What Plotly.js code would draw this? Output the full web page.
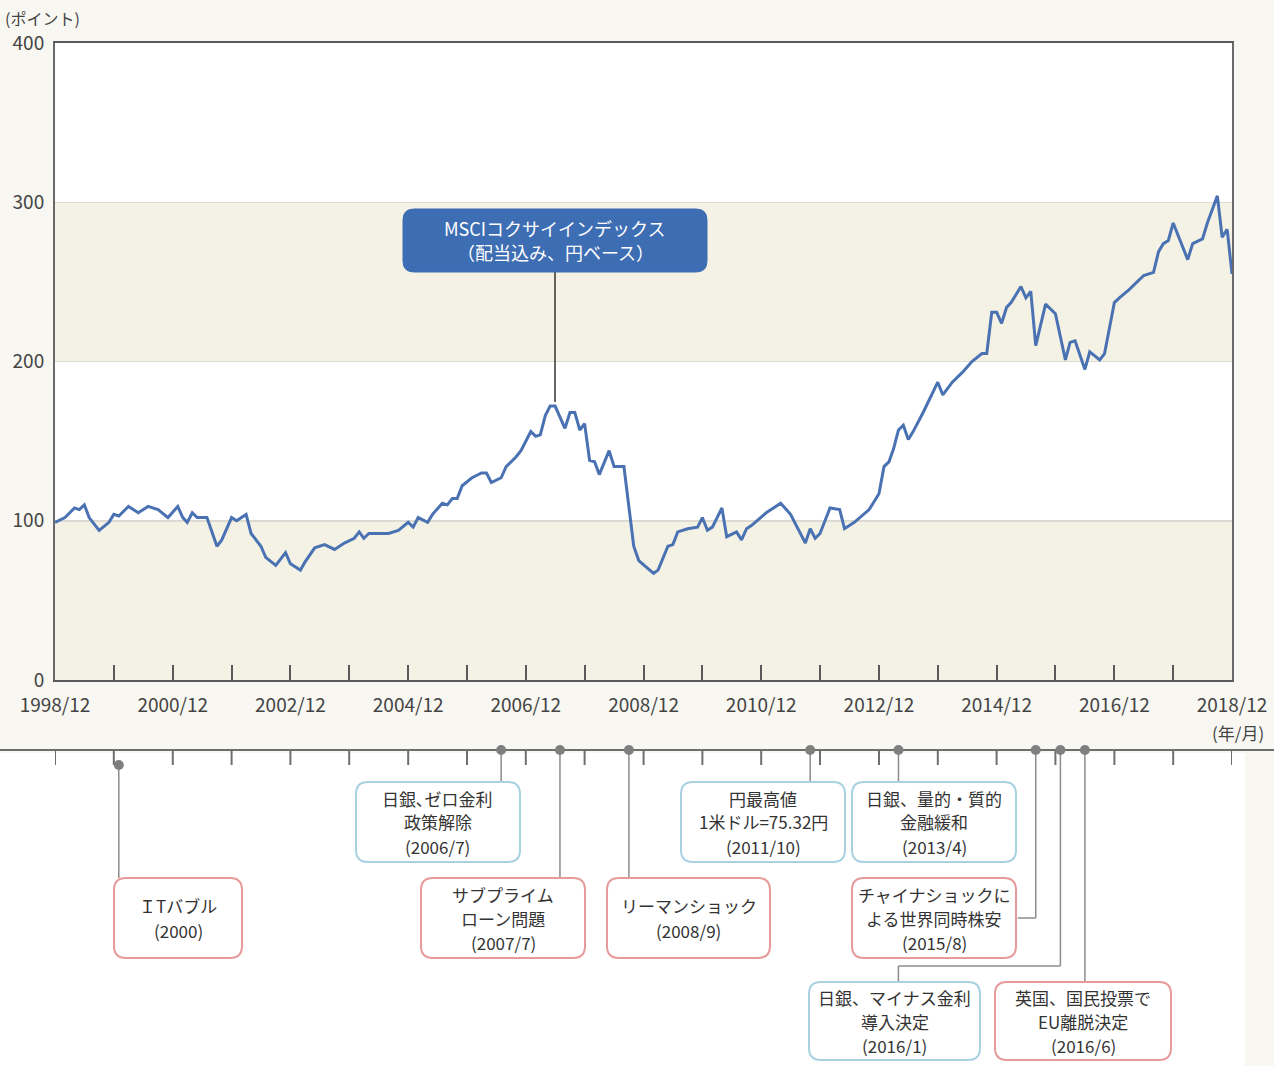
<!DOCTYPE html>
<html><head><meta charset="utf-8">
<script src="https://cdn.plot.ly/plotly-3.0.1.min.js"></script>
<style>html,body{margin:0;padding:0;background:#f8f7f1;} #chart{width:1274px;height:1066px;}</style>
</head><body><div id="chart"></div>
<script>
// ---------------- data ----------------
const seriesDates = [
 '1998-12','1999-02','1999-04','1999-05','1999-06','1999-07','1999-09','1999-11','1999-12',
 '2000-01','2000-03','2000-05','2000-07','2000-09','2000-11',
 '2001-01','2001-02','2001-03','2001-04','2001-05','2001-07','2001-09','2001-10','2001-12',
 '2002-01','2002-03','2002-04','2002-06','2002-07','2002-09','2002-11','2002-12',
 '2003-02','2003-03','2003-05','2003-07','2003-09','2003-11',
 '2004-01','2004-02','2004-03','2004-04','2004-06','2004-08','2004-10','2004-12',
 '2005-01','2005-02','2005-04','2005-05','2005-07','2005-08','2005-09','2005-10','2005-11',
 '2006-01','2006-03','2006-04','2006-05','2006-07','2006-08','2006-10','2006-11',
 '2007-01','2007-02','2007-03','2007-04','2007-05','2007-06','2007-08','2007-09','2007-10','2007-11','2007-12',
 '2008-01','2008-02','2008-03','2008-05','2008-06','2008-08','2008-10','2008-11',
 '2009-02','2009-03','2009-05','2009-06','2009-07','2009-09','2009-11','2009-12',
 '2010-01','2010-02','2010-04','2010-05','2010-07','2010-08','2010-09','2010-10',
 '2011-01','2011-04','2011-06','2011-09','2011-10','2011-11','2011-12',
 '2012-02','2012-04','2012-05','2012-07','2012-10','2012-12',
 '2013-01','2013-02','2013-03','2013-04','2013-05','2013-06','2013-07','2013-09','2013-12',
 '2014-01','2014-03','2014-05','2014-07','2014-09','2014-10','2014-11','2014-12',
 '2015-01','2015-02','2015-03','2015-05','2015-06','2015-07','2015-08','2015-10','2015-12',
 '2016-02','2016-03','2016-04','2016-06','2016-07','2016-09','2016-10','2016-12',
 '2017-01','2017-03','2017-04','2017-06','2017-08','2017-09','2017-10','2017-11','2017-12',
 '2018-03','2018-04','2018-06','2018-07','2018-09','2018-10','2018-11','2018-12'
];
const seriesValues = [
 99,102,108,107,110,102,94,99,104,
 103,109,105,109,107,102,
 109,102,99,105,102,102,84,88,102,
 100,104,92,84,77,72,80,73,
 69,74,83,85,82,86,
 89,93,89,92,92,92,94,99,
 96,102,99,104,111,110,114,114,122,
 127,130,130,124,127,134,140,144,
 156,153,154,166,172,172,158,168,168,157,161,
 138,137,129,144,134,134,84,75,
 67,69,84,85,93,95,96,102,
 94,96,108,90,93,88,95,97,
 105,111,104,86,95,89,92,
 108,107,95,99,107,117,
 134,137,145,157,160,151,156,168,187,
 179,187,193,200,205,205,231,231,
 224,234,237,247,240,244,210,236,230,
 201,212,213,195,206,201,205,237,
 240,245,248,254,256,269,274,276,287,
 264,274,277,287,304,278,283,255
];
const seriesNameLines = ['MSCIコクサイインデックス','（配当込み、円ベース）'];

const yTickVals = [0,100,200,300,400];
const xTickVals = ['1998-12-01','1999-12-01','2000-12-01','2001-12-01','2002-12-01','2003-12-01','2004-12-01',
 '2005-12-01','2006-12-01','2007-12-01','2008-12-01','2009-12-01','2010-12-01','2011-12-01','2012-12-01',
 '2013-12-01','2014-12-01','2015-12-01','2016-12-01','2017-12-01','2018-12-01'];
const xTickText = ['1998/12','','2000/12','','2002/12','','2004/12','','2006/12','','2008/12','','2010/12','',
 '2012/12','','2014/12','','2016/12','','2018/12'];

const eventDates = ['2000-01-01','2006-07-01','2007-07-01','2008-09-01','2011-10-01','2013-04-01','2015-08-01','2016-01-01','2016-06-01'];
const eventLabels = [
 ['ＩTバブル','(2000)'],
 ['日銀､ゼロ金利','政策解除','(2006/7)'],
 ['サブプライム','ローン問題','(2007/7)'],
 ['リーマンショック','(2008/9)'],
 ['円最高値','1米ドル=75.32円','(2011/10)'],
 ['日銀、量的・質的','金融緩和','(2013/4)'],
 ['チャイナショックに','よる世界同時株安','(2015/8)'],
 ['日銀、マイナス金利','導入決定','(2016/1)'],
 ['英国、国民投票で','EU離脱決定','(2016/6)']
];
const eventKinds = ['shock','policy','shock','shock','policy','policy','shock','policy','shock'];

// ---------------- layout helpers ----------------
const W=1274,H=1066,L=55,R=42,T=43,B=386;
const PW=W-L-R, PH=H-T-B;
const px = x => (x-L)/PW;
const py = y => (H-B-y)/PH;
const FONT = '"Noto Sans CJK JP","Noto Sans",sans-serif';
const LINE_H = 24;
function rrect(x0,y0,x1,y1,r){
  const P=(x,y)=>px(x).toFixed(5)+','+py(y).toFixed(5);
  return 'M'+P(x0+r,y0)+'L'+P(x1-r,y0)+'Q'+P(x1,y0)+' '+P(x1,y0+r)+
         'L'+P(x1,y1-r)+'Q'+P(x1,y1)+' '+P(x1-r,y1)+
         'L'+P(x0+r,y1)+'Q'+P(x0,y1)+' '+P(x0,y1-r)+
         'L'+P(x0,y0+r)+'Q'+P(x0,y0)+' '+P(x0+r,y0)+'Z';
}
// box placement (pixels) and connector styles per event
const boxPos = [
 {x0:114,y0:878,x1:242,y1:958, dotY:765, lineEnd:878},
 {x0:356,y0:782,x1:520,y1:862, dotY:750, lineEnd:782},
 {x0:421,y0:878,x1:585,y1:958, dotY:750, lineEnd:878},
 {x0:607,y0:878,x1:770,y1:958, dotY:750, lineEnd:878},
 {x0:681,y0:782,x1:845,y1:862, dotY:750, lineEnd:782},
 {x0:852,y0:782,x1:1016,y1:862, dotY:750, lineEnd:782},
 {x0:852,y0:878,x1:1016,y1:958, dotY:750, lineEnd:918, elbow:{dx:-18}},
 {x0:809,y0:982,x1:980,y1:1060, dotY:750, lineEnd:966, elbow:{dx:-162, drop:982}},
 {x0:995,y0:982,x1:1171,y1:1060, dotY:750, lineEnd:982}
];
const kindColor = {shock:'#e79a9a', policy:'#a8d2e2'};

const shapes = [];
const annotations = [];
function textLines(lines, cx, cy, font){
  const n = lines.length;
  lines.forEach((t,k)=>{
    const yy = cy + (k-(n-1)/2)*LINE_H;
    annotations.push({xref:'paper',yref:'paper',x:px(cx),y:py(yy),text:t,showarrow:false,
      xanchor:'center',yanchor:'middle',font:font});
  });
}
// background bands
[[0,100],[200,300]].forEach(b=>shapes.push({type:'rect',xref:'paper',yref:'y',x0:0,x1:1,y0:b[0],y1:b[1],
  fillcolor:'#f4f2e5',line:{width:0},layer:'below'}));
// white timeline area
shapes.push({type:'rect',xref:'paper',yref:'paper',x0:px(0),x1:px(1245),y0:py(753),y1:py(1066),
  fillcolor:'#ffffff',line:{width:0},layer:'below'});
// timeline line
shapes.push({type:'line',xref:'paper',yref:'paper',x0:px(0),x1:px(1274),y0:py(750),y1:py(750),
  line:{color:'#6e6e6e',width:2}});
// timeline ticks
xTickVals.forEach(d=>shapes.push({type:'line',xref:'x',yref:'paper',x0:d,x1:d,y0:py(750),y1:py(765),
  line:{color:'#6e6e6e',width:2}}));
// event boxes, connectors, dots
eventDates.forEach((d,i)=>{
  const b = boxPos[i];
  const col = kindColor[eventKinds[i]];
  shapes.push({type:'line',xref:'x',yref:'paper',x0:d,x1:d,y0:py(b.dotY),y1:py(b.lineEnd),
    line:{color:'#8c8c8c',width:1.5}});
  if(b.elbow){
    shapes.push({type:'line',xref:'x',xsizemode:'pixel',xanchor:d,x0:0,x1:b.elbow.dx,
      yref:'paper',y0:py(b.lineEnd),y1:py(b.lineEnd),line:{color:'#8c8c8c',width:1.5}});
    if(b.elbow.drop){
      shapes.push({type:'line',xref:'x',xsizemode:'pixel',xanchor:d,x0:b.elbow.dx,x1:b.elbow.dx,
        yref:'paper',y0:py(b.lineEnd),y1:py(b.elbow.drop),line:{color:'#8c8c8c',width:1.5}});
    }
  }
  shapes.push({type:'path',xref:'paper',yref:'paper',path:rrect(b.x0,b.y0,b.x1,b.y1,12),
    fillcolor:'#ffffff',line:{color:col,width:2}});
  shapes.push({type:'circle',xref:'x',xsizemode:'pixel',xanchor:d,x0:-5,x1:5,
    yref:'paper',ysizemode:'pixel',yanchor:py(b.dotY),y0:-5,y1:5,
    fillcolor:'#7f7f7f',line:{width:0}});
  textLines(eventLabels[i], (b.x0+b.x1)/2, (b.y0+b.y1)/2, {family:FONT,size:17,color:'#333333'});
});
// series callout
shapes.push({type:'line',xref:'paper',yref:'paper',x0:px(555),x1:px(555),y0:py(272),y1:py(402),
  line:{color:'#333333',width:1.5}});
shapes.push({type:'path',xref:'paper',yref:'paper',path:rrect(403,209,707,272,11),
  fillcolor:'#3d6db3',line:{color:'#3d6db3',width:1}});
textLines(seriesNameLines, 555, 240, {family:FONT,size:18,color:'#ffffff'});
// unit labels
annotations.push({xref:'paper',yref:'paper',x:px(3),y:py(18),xanchor:'left',yanchor:'middle',
  text:'(ポイント)',showarrow:false,font:{family:FONT,size:16,color:'#444'}});
annotations.push({xref:'paper',yref:'paper',x:px(1266),y:py(732),xanchor:'right',yanchor:'middle',
  text:'(年/月)',showarrow:false,font:{family:FONT,size:17,color:'#444'}});

const trace = {
  x: seriesDates, y: seriesValues, type:'scatter', mode:'lines',
  line:{color:'#4a72b3',width:3}, hoverinfo:'skip', name:'MSCI'
};

const layout = {
  width:W, height:H,
  margin:{l:L,r:R,t:T,b:B,pad:0},
  paper_bgcolor:'#f8f7f1', plot_bgcolor:'#ffffff',
  showlegend:false,
  font:{family:FONT,color:'#444'},
  xaxis:{type:'date',range:['1998-12-01','2018-12-01'],tickmode:'array',tickvals:xTickVals,ticktext:xTickText,
    ticks:'inside',ticklen:15,tickwidth:2,tickcolor:'#5a5a5a',showline:true,linecolor:'#5a5a5a',linewidth:2,
    mirror:true,showgrid:false,zeroline:false,tickfont:{family:FONT,size:19,color:'#444'},ticklabelstandoff:7,
    fixedrange:true},
  yaxis:{range:[0,400],tickmode:'array',tickvals:yTickVals,ticks:'',showline:true,linecolor:'#6a6a6a',
    linewidth:2,mirror:true,showgrid:true,gridcolor:'#dcdad2',gridwidth:1.5,zeroline:false,
    tickfont:{family:FONT,size:19,color:'#444'},ticklabelstandoff:5,fixedrange:true},
  shapes:shapes, annotations:annotations
};
Plotly.newPlot('chart',[trace],layout,{displayModeBar:false,staticPlot:true});
</script></body></html>
